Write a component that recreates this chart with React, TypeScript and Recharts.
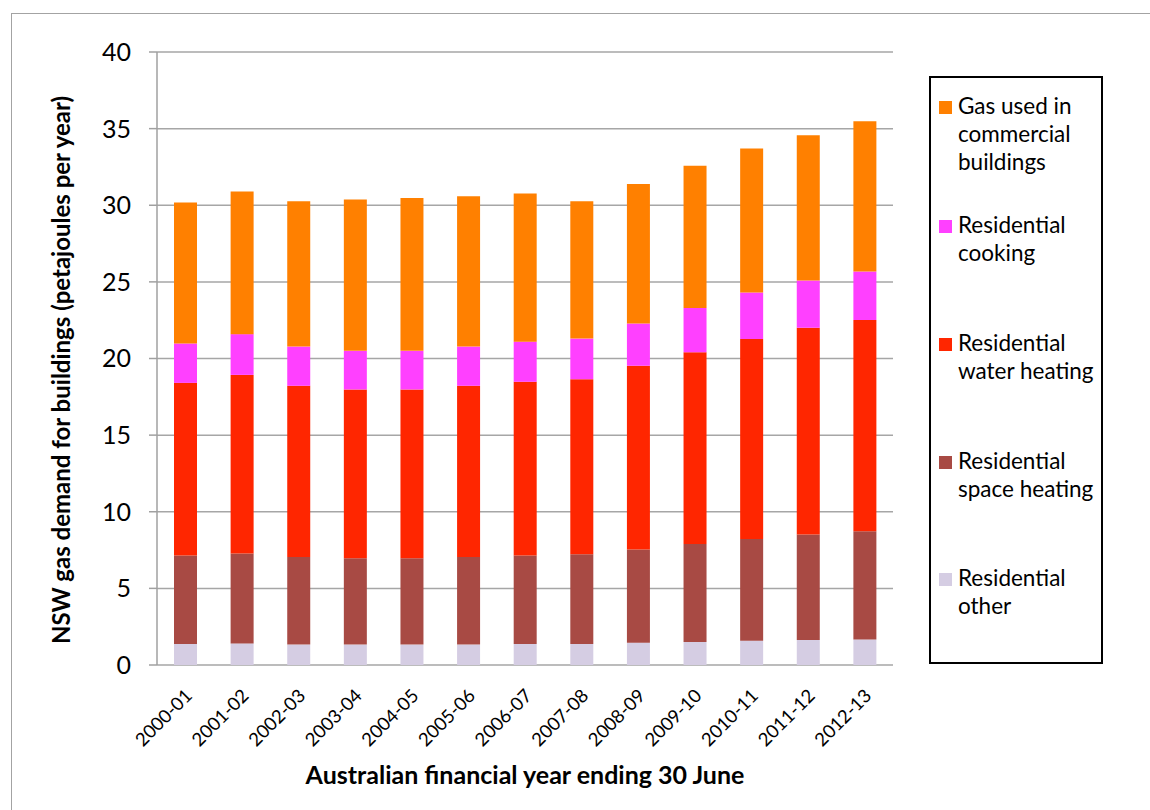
import React from "react";
import { BarChart, Bar, XAxis, YAxis, CartesianGrid, Legend } from "recharts";

const FONT = "Lato, 'Open Sans', sans-serif";

const years = [
  "2000-01", "2001-02", "2002-03", "2003-04", "2004-05", "2005-06", "2006-07",
  "2007-08", "2008-09", "2009-10", "2010-11", "2011-12", "2012-13",
];

// petajoules per year, by end use
const residentialOther = [1.37, 1.41, 1.33, 1.33, 1.33, 1.33, 1.37, 1.37, 1.46, 1.5, 1.59, 1.63, 1.67];
const spaceHeating = [5.78, 5.87, 5.71, 5.63, 5.63, 5.71, 5.78, 5.85, 6.08, 6.39, 6.63, 6.89, 7.05];
const waterHeating = [11.26, 11.65, 11.18, 11.02, 11.02, 11.18, 11.33, 11.43, 11.98, 12.52, 13.06, 13.48, 13.8];
const cooking = [2.57, 2.66, 2.56, 2.52, 2.52, 2.56, 2.62, 2.65, 2.76, 2.89, 3.02, 3.09, 3.15];
const commercial = [9.2, 9.3, 9.48, 9.87, 9.98, 9.81, 9.66, 8.96, 9.11, 9.27, 9.4, 9.48, 9.81];

const yTicks = [0, 5, 10, 15, 20, 25, 30, 35, 40];
// tick marks between categories on the x axis
const boundaryTicks = years.map((_, i) => i).concat(years.length);

// bottom to top in the stack
const series = [
  { key: "other", name: "Residential\nother", color: "#D5CDE3", values: residentialOther },
  { key: "space", name: "Residential\nspace heating", color: "#A84A44", values: spaceHeating },
  { key: "water", name: "Residential\nwater heating", color: "#FF2600", values: waterHeating },
  { key: "cooking", name: "Residential\ncooking", color: "#FF40FF", values: cooking },
  { key: "commercial", name: "Gas used in\ncommercial\nbuildings", color: "#FF8000", values: commercial },
];

const data = years.map((year, i) => {
  const row: Record<string, string | number> = { year };
  series.forEach((s) => (row[s.key] = s.values[i]));
  return row;
});

// legend rows: top of each entry inside the box
const legendTops = [20, 139, 257, 375, 492];

function YearTick({ x, y, payload }: any) {
  return (
    <text
      x={x + 8}
      y={y + 24}
      transform={`rotate(-45, ${x + 8}, ${y + 24})`}
      textAnchor="end"
      fontSize={18.5}
      fontFamily={FONT}
      fill="#000"
    >
      {payload.value}
    </text>
  );
}

function BoxLegend() {
  const items = [...series].reverse();
  return (
    <div
      style={{
        position: "absolute",
        left: 929,
        top: 76,
        width: 170,
        height: 584,
        border: "2px solid #000",
        fontFamily: FONT,
        fontSize: 22.5,
        background: "#fff",
      }}
    >
      {items.map((s, i) => (
        <div
          key={s.key}
          style={{ position: "absolute", left: 8, top: legendTops[i], display: "flex" }}
        >
          <span
            style={{
              width: 13,
              height: 13,
              background: s.color,
              marginTop: 3,
              marginRight: 6,
              flexShrink: 0,
            }}
          />
          <span style={{ whiteSpace: "pre", lineHeight: "28px", marginTop: -6 }}>
            {s.name}
          </span>
        </div>
      ))}
    </div>
  );
}

export default function App() {
  return (
    <div
      style={{
        position: "fixed",
        left: 0,
        top: 0,
        width: 1150,
        height: 810,
        overflow: "hidden",
        background: "#fff",
      }}
    >
      <div
        style={{
          position: "absolute",
          left: 11,
          top: 13,
          width: 1300,
          height: 1000,
          border: "1.5px solid #a3a3a3",
        }}
      />
      <BarChart
        width={1150}
        height={810}
        data={data}
        margin={{ top: 52, right: 257, bottom: 0, left: 97 }}
        barSize={23}
        style={{ position: "absolute", left: 0, top: 0 }}
      >
        <CartesianGrid vertical={false} stroke="#a6a6a6" strokeWidth={1.5} />
        <XAxis
          xAxisId="bounds"
          type="number"
          domain={[0, years.length]}
          ticks={boundaryTicks}
          interval={0}
          height={0}
          tick={false}
          tickSize={7}
          axisLine={{ stroke: "#a0a0a0", strokeWidth: 1.5 }}
          tickLine={{ stroke: "#a0a0a0", strokeWidth: 1.5 }}
        />
        <XAxis
          dataKey="year"
          height={145}
          interval={0}
          tick={<YearTick />}
          axisLine={false}
          tickLine={false}
          label={() => (
            <text
              x={525}
              y={784}
              textAnchor="middle"
              fontSize={25}
              fontWeight="bold"
              fontFamily={FONT}
              fill="#000"
            >
              Australian financial year ending 30 June
            </text>
          )}
        />
        <YAxis
          width={60}
          domain={[0, 40]}
          ticks={yTicks}
          interval={0}
          tick={{ fontSize: 25, fontFamily: FONT, fill: "#000" }}
          tickSize={8}
          tickMargin={18}
          axisLine={{ stroke: "#a0a0a0", strokeWidth: 1.5 }}
          tickLine={{ stroke: "#a0a0a0", strokeWidth: 1.5 }}
          label={() => (
            <text
              x={70}
              y={370}
              transform="rotate(-90, 70, 370)"
              textAnchor="middle"
              fontSize={24}
              fontWeight="bold"
              fontFamily={FONT}
              fill="#000"
            >
              NSW gas demand for buildings (petajoules per year)
            </text>
          )}
        />
        {series.map((s) => (
          <Bar
            key={s.key}
            dataKey={s.key}
            name={s.name}
            stackId="gas"
            fill={s.color}
            isAnimationActive={false}
          />
        ))}
        <Legend content={() => null} />
      </BarChart>
      <BoxLegend />
    </div>
  );
}
